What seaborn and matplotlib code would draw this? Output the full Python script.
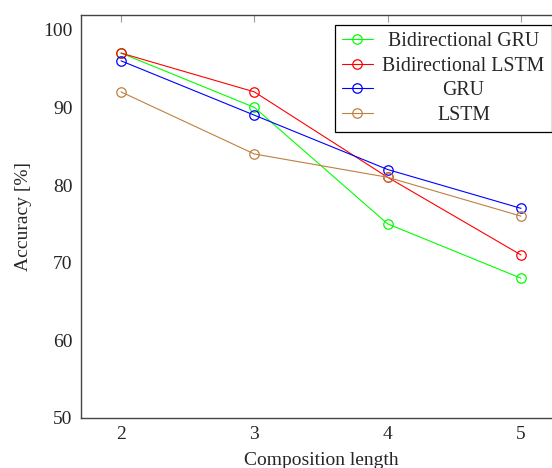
import seaborn as sns
import matplotlib.pyplot as plt
from matplotlib.transforms import Bbox

# Data
lengths = [2, 3, 4, 5]
bi_gru = [97, 90, 75, 68]
bi_lstm = [97, 92, 81, 71]
gru = [96, 89, 82, 77]
lstm = [92, 84, 81, 76]

series = [
    ('Bidirectional GRU', bi_gru, '#00ff00'),
    ('Bidirectional LSTM', bi_lstm, '#ff0000'),
    ('GRU', gru, '#0000ff'),
    ('LSTM', lstm, '#bf8040'),
]

sns.set_style('white')
plt.rcParams['font.family'] = ['Liberation Serif', 'DejaVu Serif']
plt.rcParams['mathtext.fontset'] = 'stix'

fig = plt.figure(figsize=(5.52, 4.68), dpi=100)
# axes runs past the right edge of the picture, as in the reference
ax = fig.add_axes([81 / 552, 50 / 468, 480 / 552, 403 / 468])

for name, vals, col in series:
    sns.lineplot(x=lengths, y=vals, ax=ax, color=col, label=name,
                 marker='o', markersize=6.8, markerfacecolor='none',
                 markeredgecolor=col, markeredgewidth=0.9, linewidth=0.8)

ax.set_xlim(1.7, 5.3)
ax.set_ylim(50, 101.9)
ax.set_xticks(lengths)
ax.set_yticks([50, 60, 70, 80, 90, 100])
ax.set_xlabel('Composition length', fontsize=14, labelpad=6)
ax.set_ylabel('Accuracy [%]', fontsize=14, labelpad=8)

for s in ax.spines.values():
    s.set_color('#444444')
    s.set_linewidth(1.0)
ax.tick_params(axis='both', direction='in', length=5, width=0.8, color='#999999',
               labelsize=14, top=True, right=True, pad=6)

leg = ax.legend(loc='upper right', bbox_to_anchor=(551.5 / 552, 1 - 25 / 468),
                bbox_transform=fig.transFigure, fontsize=14.3, frameon=True,
                fancybox=False, framealpha=1, edgecolor='black', borderpad=0.35,
                labelspacing=0.28, handlelength=1.6, handletextpad=0.45,
                borderaxespad=0)
leg.get_frame().set_linewidth(0.9)

# center legend labels like pgfplots does
areas = [row.get_children()[1]
         for col in leg._legend_handle_box.get_children()
         for row in col.get_children()]
origs = [a.get_bbox for a in areas]


def centered(renderer, orig):
    w = max(o(renderer).width for o in origs)
    b = orig(renderer)
    return Bbox.from_bounds(-w / 2, b.y0, w, b.height)


for a, o in zip(areas, origs):
    a._text.set_horizontalalignment('center')
    a.get_bbox = lambda r, o=o: centered(r, o)

fig.savefig('out.png', dpi=100)
